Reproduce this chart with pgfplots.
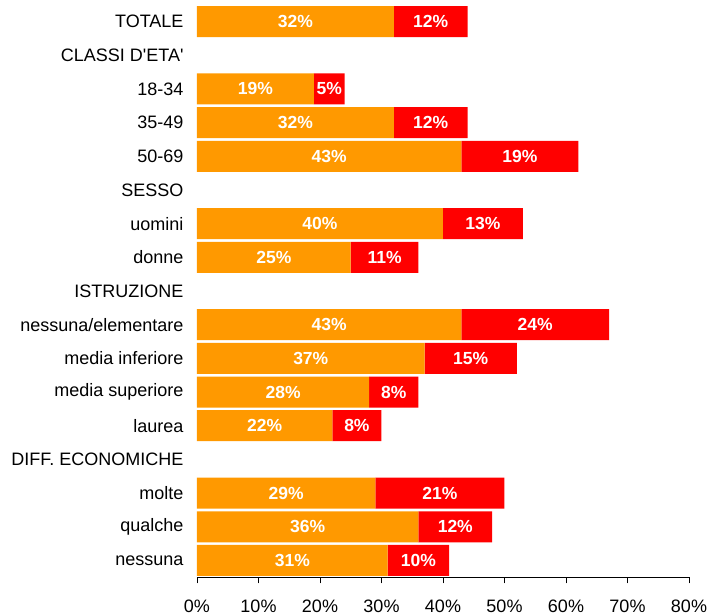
\documentclass[border=0pt]{standalone}
\usepackage{pgfplots}
\usepackage{pgfplotstable}
\pgfplotsset{compat=1.18}
\usepackage{fontspec}
\setmainfont{Liberation Sans}
\definecolor{arancio}{RGB}{255,153,0}
\definecolor{rosso}{RGB}{255,0,0}

% y = riga (0 in alto), o = quota arancio, r = quota rossa
\pgfplotstableread{
y  o  r
0  32 12
2  19 5
3  32 12
4  43 19
6  40 13
7  25 11
9  43 24
10 37 15
11 28 8
12 22 8
14 29 21
15 36 12
16 31 10
}\dati

\pgfplotsset{
  geometria/.style={
    at={(0,0)}, anchor=south west,
    scale only axis, width=492pt, height=572.6pt,
    xmin=0, xmax=80, ymin=-0.5, ymax=16.5, y dir=reverse,
  },
  etichette/.style={
    only marks, mark=none, point meta=explicit symbolic,
    nodes near coords={\pgfplotspointmeta\%},
    every node near coord/.append style={white, font=\fontsize{17.5}{20}\selectfont\bfseries, anchor=center},
  },
}

\begin{document}
\begin{tikzpicture}[font=\fontsize{18}{20}\selectfont]
\begin{axis}[
  geometria,
  xbar stacked, bar width=0.92,
  ytick={0,...,16},
  yticklabels={TOTALE, CLASSI D\textquotesingle ETA\textquotesingle, 18-34, 35-49, 50-69,
    SESSO, uomini, donne, ISTRUZIONE, nessuna/elementare, media inferiore,
    media superiore, laurea, DIFF. ECONOMICHE, molte, qualche, nessuna},
  xtick={0,10,...,80},
  xticklabels={0\%,10\%,20\%,30\%,40\%,50\%,60\%,70\%,80\%},
  axis lines*=left,
  y axis line style={draw=none},
  ytick style={draw=none},
  xtick style={black, thin},
  x axis line style={black, thin},
  xtick align=outside, major tick length=6pt,
  yticklabel style={xshift=-10pt},
  xticklabel style={yshift=-13pt},
]
\addplot[fill=arancio, draw=none] table[x=o, y=y] {\dati};
\addplot[fill=rosso, draw=none] table[x=r, y=y] {\dati};
\end{axis}
\begin{axis}[geometria, hide axis]
\addplot[etichette] table[x expr=\thisrow{o}/2, y=y, meta=o] {\dati};
\addplot[etichette] table[x expr=\thisrow{o}+\thisrow{r}/2, y=y, meta=r] {\dati};
\end{axis}
\path (-197pt,-36.7pt) rectangle (525pt,577.3pt);
\end{tikzpicture}
\end{document}
